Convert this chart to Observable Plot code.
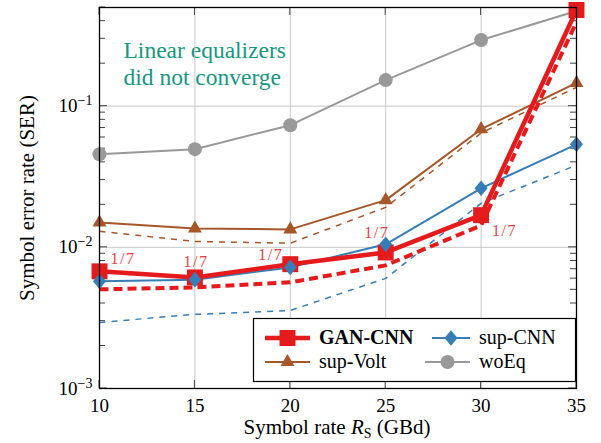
<!DOCTYPE html>
<html><head><meta charset="utf-8">
<script src="https://cdn.jsdelivr.net/npm/d3@7"></script>
<script src="https://cdn.jsdelivr.net/npm/@observablehq/plot@0.6"></script>
<style>
body{margin:0;background:#fff} svg{display:block}
#chart svg, #chart svg text, #chart svg tspan { font-family: "Liberation Serif", "Times New Roman", serif !important; }
</style>
</head><body><div id="chart"></div>
<script>
// ---- data ----
const rates = [10, 15, 20, 25, 30, 35];
const serWoEq = [0.0457, 0.0496, 0.0733, 0.153, 0.294, 0.472];
const serSupVolt = [0.0150, 0.0136, 0.0134, 0.0216, 0.0687, 0.146];
const serSupVoltDashed = [0.0130, 0.0110, 0.0107, 0.0192, 0.0645, 0.136];
const serSupCNN = [0.00574, 0.0059, 0.00721, 0.0105, 0.0262, 0.0537];
const serSupCNNDashed = [0.00294, 0.00335, 0.00357, 0.00603, 0.0205, 0.0382];
const serGanCNN = [0.00676, 0.00612, 0.0076, 0.0092, 0.0169, 0.48];
const serGanCNNDashed = [0.00504, 0.0052, 0.00565, 0.00745, 0.0143, 0.394];
const ratioLabels = ["1/7", "1/7", "1/7", "1/7", "1/7"];
const xTicks = [10, 15, 20, 25, 30, 35];
const yMajorTicks = [1e-3, 1e-2, 1e-1];
const annotationText = "Linear equalizers\ndid not converge";
const legendNames = ["GAN-CNN", "sup-CNN", "sup-Volt", "woEq"];

// ---- styles ----
const FONT = "'Liberation Serif', 'Times New Roman', serif";
const RED = "#e41a1c", BLUE = "#377eb8", BROWN = "#a65628", GRAY = "#999999";
const diamondSym = {draw(ctx, size) { const w = Math.sqrt(size / 2.4), h = 1.2 * w;
  ctx.moveTo(0, -h); ctx.lineTo(w, 0); ctx.lineTo(0, h); ctx.lineTo(-w, 0); ctx.closePath(); }};

const yMinorTicks = [];
for (const dec of [1e-3, 1e-2, 1e-1]) for (let m = 2; m <= 9; m++) { const v = m * dec; if (v <= 0.5 + 1e-9) yMinorTicks.push(v); }

const rows = (vals) => rates.map((r, i) => ({x: r, y: vals[i]}));
const lineSpecs = [
  {vals: serWoEq, stroke: GRAY, w: 2},
  {vals: serSupVoltDashed, stroke: BROWN, w: 1.5, dash: "6,6"},
  {vals: serSupVolt, stroke: BROWN, w: 2},
  {vals: serSupCNNDashed, stroke: BLUE, w: 1.5, dash: "6,6"},
  {vals: serSupCNN, stroke: BLUE, w: 2},
  {vals: serGanCNNDashed, stroke: RED, w: 4, dash: "9,5"},
  {vals: serGanCNN, stroke: RED, w: 4.5},
];
const markSpecs = [
  {vals: serWoEq, fill: GRAY, symbol: "circle", r: 7},
  {vals: serSupVolt, fill: BROWN, symbol: "triangle", r: 5.2},
  {vals: serGanCNN, fill: RED, symbol: "square", r: 9},
  {vals: serSupCNN, fill: BLUE, symbol: diamondSym, r: 5.7},
];
const labelOffsets = [
  {dx: 11, dy: -12, anchor: "start"},
  {dx: 1, dy: -16, anchor: "middle"},
  {dx: -7, dy: -9, anchor: "end"},
  {dx: -9, dy: -20, anchor: "middle"},
  {dx: 11, dy: 16, anchor: "start"},
];

const marks = [
  Plot.text([annotationText], {frameAnchor: "top-left", lineAnchor: "top", dx: 24, dy: 32, text: d => d, fill: "#16987f", fontSize: 23.5, lineHeight: 1.13, textAnchor: "start", fontFamily: FONT}),
  Plot.gridX(xTicks, {stroke: "#c8c8c8", strokeOpacity: 1, strokeWidth: 1}),
  Plot.gridY(yMajorTicks, {stroke: "#c8c8c8", strokeOpacity: 1, strokeWidth: 1}),
  Plot.axisX(xTicks, {anchor: "bottom", tickSize: 0, tickPadding: 10, label: null, fontSize: 19, tickFormat: d => String(d)}),
  Plot.axisY(yMajorTicks, {anchor: "left", tickSize: 0, tickPadding: 7, label: null, fontSize: 19, tickFormat: d => "10^" + Math.round(Math.log10(d))}),
];
for (const s of lineSpecs) marks.push(Plot.line(rows(s.vals), {x: "x", y: "y", stroke: s.stroke, strokeWidth: s.w, strokeDasharray: s.dash, strokeLinejoin: "round", strokeLinecap: s.dash ? "butt" : "round"}));
for (const m of markSpecs) marks.push(Plot.dot(rows(m.vals), {x: "x", y: "y", fill: m.fill, stroke: null, symbol: m.symbol, r: m.r}));
ratioLabels.forEach((t, i) => {
  const o = labelOffsets[i];
  marks.push(Plot.text([{x: rates[i], y: serGanCNN[i], t}], {x: "x", y: "y", text: "t", dx: o.dx, dy: o.dy, textAnchor: o.anchor, fill: "#ea3f42", fontSize: 16, fontFamily: FONT}));
});
marks.push(Plot.frame({stroke: "#000", strokeWidth: 1.3}));

const chart = Plot.plot({
  width: 601, height: 443,
  marginLeft: 99, marginRight: 25, marginTop: 7, marginBottom: 55,
  style: {fontFamily: FONT, fontSize: "19px", background: "white", color: "#000"},
  x: {domain: [10, 35]},
  y: {type: "log", domain: [1e-3, 0.5]},
  marks
});
document.getElementById("chart").appendChild(chart);

const svg = d3.select(chart);
const sx = chart.scale("x"), sy = chart.scale("y");
const X0 = sx.apply(10), X1 = sx.apply(35), Y0 = sy.apply(1e-3), Y1 = sy.apply(0.5);

// letter spacing for the ratio labels (math-style spacing)
svg.selectAll('g[aria-label="text"] text').filter(function() { return this.textContent === "1/7"; })
  .attr("letter-spacing", "1.5px");

// inward ticks
const tg = svg.append("g").attr("stroke", "#444").attr("stroke-width", 1);
for (const v of yMinorTicks) {
  const y = sy.apply(v);
  tg.append("line").attr("x1", X0).attr("x2", X0 + 6).attr("y1", y).attr("y2", y);
  tg.append("line").attr("x1", X1).attr("x2", X1 - 6).attr("y1", y).attr("y2", y);
}
for (const v of yMajorTicks) {
  const y = sy.apply(v);
  tg.append("line").attr("x1", X0).attr("x2", X0 + 8).attr("y1", y).attr("y2", y);
  tg.append("line").attr("x1", X1).attr("x2", X1 - 8).attr("y1", y).attr("y2", y);
}
for (const v of xTicks) {
  const x = sx.apply(v);
  tg.append("line").attr("x1", x).attr("x2", x).attr("y1", Y0).attr("y2", Y0 - 8);
  tg.append("line").attr("x1", x).attr("x2", x).attr("y1", Y1).attr("y2", Y1 + 8);
}
chart.insertBefore(tg.node(), chart.querySelector('g[aria-label="line"]'));

// superscript tick labels
svg.selectAll('g[aria-label="y-axis tick label"] text').each(function() {
  const t = this.textContent;
  if (t.includes("^")) {
    const [b, e] = t.split("^");
    this.innerHTML = `${b}<tspan dy="-0.5em" font-size="14px">${e.replace("-", "\u2212")}</tspan>`;
  }
});

// axis labels
svg.append("text").attr("x", 337).attr("y", 434).attr("text-anchor", "middle")
  .attr("font-family", FONT).attr("font-size", 21)
  .html(`Symbol rate <tspan font-style="italic">R</tspan><tspan font-size="14px" dy="4">S</tspan><tspan dy="-4"> (GBd)</tspan>`);
svg.append("text").attr("transform", "translate(34,198) rotate(-90)").attr("text-anchor", "middle")
  .attr("font-family", FONT).attr("font-size", 21)
  .text("Symbol error rate (SER)");

// legend
const lg = svg.append("g").attr("font-family", FONT).attr("font-size", 20).attr("text-anchor", "start");
lg.append("rect").attr("x", 253.5).attr("y", 318.5).attr("width", 322).attr("height", 63)
  .attr("fill", "white").attr("stroke", "#000").attr("stroke-width", 1.2);
const legendItems = [
  {name: legendNames[0], color: RED, sym: d3.symbolSquare, r: 9, w: 4.5, x0: 265, x1: 310, y: 338, bold: true},
  {name: legendNames[1], color: BLUE, sym: diamondSym, r: 5.7, w: 2, x0: 432, x1: 470, y: 338},
  {name: legendNames[2], color: BROWN, sym: d3.symbolTriangle, r: 5.2, w: 2, x0: 265, x1: 310, y: 362},
  {name: legendNames[3], color: GRAY, sym: d3.symbolCircle, r: 7, w: 2, x0: 425, x1: 470, y: 362},
];
for (const it of legendItems) {
  lg.append("line").attr("x1", it.x0).attr("x2", it.x1).attr("y1", it.y).attr("y2", it.y)
    .attr("stroke", it.color).attr("stroke-width", it.w);
  lg.append("path").attr("transform", `translate(${(it.x0 + it.x1) / 2},${it.y})`)
    .attr("d", d3.symbol(it.sym, Math.PI * it.r * it.r)()).attr("fill", it.color);
  lg.append("text").attr("x", it.x1 + 9).attr("y", it.y).attr("dy", "0.32em")
    .attr("font-weight", it.bold ? "bold" : null).text(it.name);
}
</script></body></html>
